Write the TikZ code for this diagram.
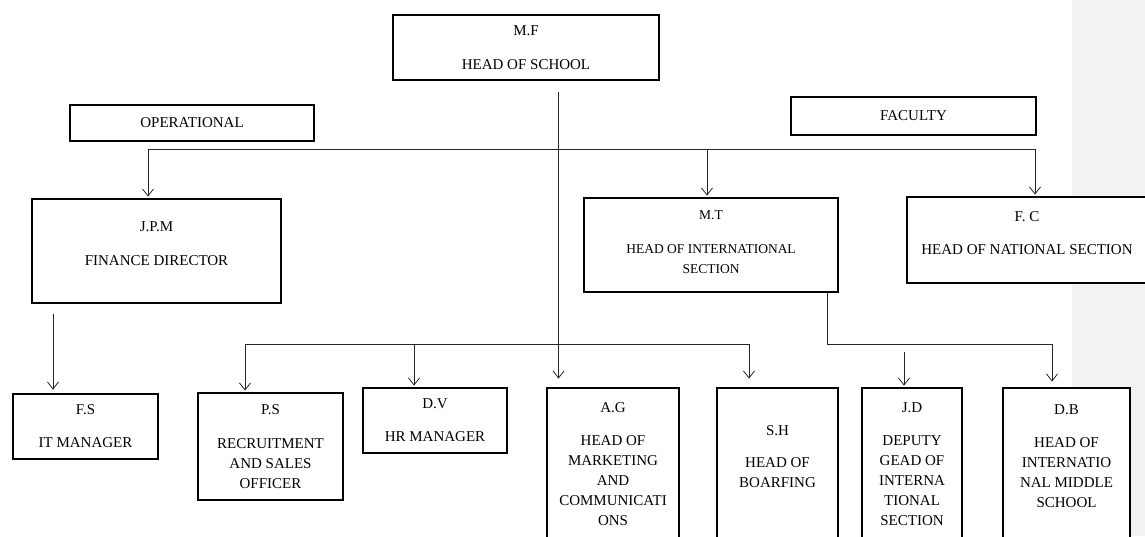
\documentclass[tikz,border=0pt]{standalone}
\usepackage{fontspec}
\setmainfont{Liberation Serif}
\usetikzlibrary{arrows.meta}
\tikzset{
	box/.style={draw, line width=2.8pt, fill=white, align=center, inner sep=0pt, font=\fontsize{15}{20}\selectfont},
	link/.style={line width=0.8pt, color=black!85},
	arr/.style={link, -{Straight Barb[length=7pt,width=11pt]}, shorten >=1pt}
}

\begin{document}
\begin{tikzpicture}[x=1pt, y=-1pt]
		%%%%% START %%%%%
		\useasboundingbox (0,0) rectangle (1145,536);
		\fill[black!5] (1072,0) rectangle (1145,536);
		
		\node[box, minimum width=266pt, minimum height=65pt] (mf) at (526,47.5) {M.F\\[14pt]HEAD OF SCHOOL};
		
		\node[box, minimum width=244pt, minimum height=36pt] (operational) at (192,123) {OPERATIONAL};
		\node[box, minimum width=245pt, minimum height=38pt] (faculty) at (913.5,116) {FACULTY};
		
		\node[box, minimum width=249pt, minimum height=104pt] (jpm) at (156.5,251) {J.P.M\\[14pt]FINANCE DIRECTOR\\[-6pt]};
		\node[box, minimum width=254pt, minimum height=94pt, font=\fontsize{13.5}{20}\selectfont] (mt) at (711,245) {M.T\\[14pt]HEAD OF INTERNATIONAL\\SECTION\\[-14pt]};
		\node[box, minimum width=240pt, minimum height=86pt] (fc) at (1027,240) {F. C\\[13pt]HEAD OF NATIONAL SECTION\\[-7pt]};
		
		\node[box, minimum width=145pt, minimum height=65pt] (fs) at (85.5,426.5) {F.S\\[13pt]IT MANAGER};
		\node[box, minimum width=145pt, minimum height=107pt] (ps) at (270.5,446.5) {P.S\\[14pt]RECRUITMENT\\AND SALES\\OFFICER};
		\node[box, minimum width=144pt, minimum height=65pt] (dv) at (435,420.5) {D.V\\[13pt]HR MANAGER};
		\node[box, minimum width=132pt, minimum height=152pt] (ag) at (613,464) {A.G\\[13pt]HEAD OF\\MARKETING\\AND\\COMMUNICATI\\ONS};
		\node[box, minimum width=121pt, minimum height=152pt] (sh) at (777.5,464) {S.H\\[12pt]HEAD OF\\BOARFING\\[-6pt]};
		\node[box, minimum width=100pt, minimum height=152pt] (jd) at (912,464) {J.D\\[13pt]DEPUTY\\GEAD OF\\INTERNA\\TIONAL\\SECTION};
		\node[box, minimum width=127pt, minimum height=152pt] (db) at (1066.5,464) {D.B\\[13pt]HEAD OF\\INTERNATIO\\NAL MIDDLE\\SCHOOL\\[-5pt]};
		
		\coordinate (spine) at (558.5,0);
		\coordinate (bar-l) at (148,149);
		\coordinate (bar-m) at (707,149);
		\coordinate (bar-r) at (1035,149);
		\coordinate (fs-in) at (53,0);
		\coordinate (low-l) at (245,344);
		\coordinate (low-m) at (414,344);
		\coordinate (low-r) at (749,344);
		\coordinate (mt-out) at (827,0);
		\coordinate (db-in) at (1052,344);
		\coordinate (jd-in) at (904,352);
		
		\draw[arr, shorten <=11pt, shorten >=8pt] (mf.south -| spine) -- (ag.north -| spine);
		
		\draw[link] (bar-l) -- (bar-r);
		\draw[arr] (bar-l) -- (jpm.north -| bar-l);
		\draw[arr] (bar-m) -- (mt.north -| bar-m);
		\draw[arr] (bar-r) -- (fc.north -| bar-r);
		
		\draw[arr, shorten <=10pt, shorten >=3pt] (jpm.south -| fs-in) -- (fs.north -| fs-in);
		
		\draw[link] (low-l) -- (low-r);
		\draw[arr] (low-l) -- (ps.north -| low-l);
		\draw[arr] (low-m) -- (dv.north -| low-m);
		\draw[arr, shorten >=8pt] (low-r) -- (sh.north -| low-r);
		
		\draw[arr, shorten >=5pt] (mt.south -| mt-out) |- (db-in) -- (db.north -| db-in);
		\draw[arr] (jd-in) -- (jd.north -| jd-in);
		%%%%% END %%%%%
\end{tikzpicture}
\end{document}
